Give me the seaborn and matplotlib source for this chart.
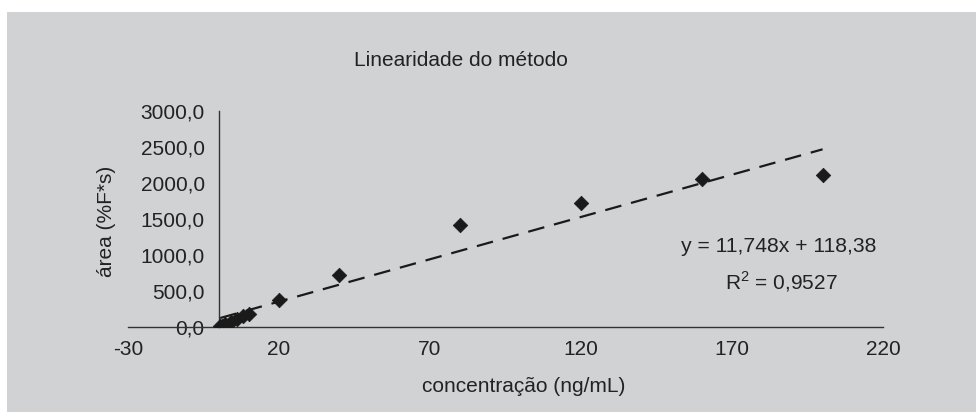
import matplotlib
matplotlib.use("Agg")
import matplotlib.pyplot as plt
import seaborn as sns
import numpy as np
import pandas as pd
from matplotlib.patches import Rectangle
from matplotlib.ticker import FuncFormatter, FixedLocator

# ---- data ----
concentracao = [0.5, 1, 2, 4, 6, 8, 10, 20, 40, 80, 120, 160, 200]
area = [9, 18, 36, 72, 110, 148, 185, 375, 722, 1417, 1722, 2055, 2111]
slope = 11.748
intercept = 118.38
x_ticks = [-30, 20, 70, 120, 170, 220]
y_ticks = [0, 500, 1000, 1500, 2000, 2500, 3000]
title = "Linearidade do método"
xlabel = "concentração (ng/mL)"
ylabel = "área (%F*s)"
eq_text = "y = 11,748x + 118,38"
r2_text = "R$^2$ = 0,9527"

df = pd.DataFrame({"x": concentracao, "y": area})

sns.set_style("white")
plt.rcParams["font.family"] = ["Liberation Sans", "DejaVu Sans"]
plt.rcParams["mathtext.fontset"] = "custom"
plt.rcParams["mathtext.rm"] = "Liberation Sans"

W, H = 976, 412
fig = plt.figure(figsize=(W / 100, H / 100), dpi=100)
fig.patch.set_facecolor("white")
bg = "#d1d2d4"
fig.patches.append(Rectangle((7 / W, 0), 1 - 7 / W, 1 - 12 / H,
                             transform=fig.transFigure, facecolor=bg,
                             edgecolor="none", zorder=-10))

ax = fig.add_axes([128 / W, (H - 327) / H, (883 - 128) / W, (327 - 111) / H])
ax.set_facecolor("none")

sns.scatterplot(data=df, x="x", y="y", ax=ax, marker="D", s=55,
                color="#1a1a1a", edgecolor="#1a1a1a", linewidth=0.5, zorder=3)

xl = np.array([min(concentracao), max(concentracao)])
ax.plot(xl, slope * xl + intercept, linestyle=(0, (7.5, 4.5)), color="#1a1a1a",
        linewidth=1.6, zorder=2)

ax.set_xlim(x_ticks[0], x_ticks[-1])
ax.set_ylim(y_ticks[0], y_ticks[-1])
ax.xaxis.set_major_locator(FixedLocator(x_ticks))
ax.yaxis.set_major_locator(FixedLocator(y_ticks))
ax.yaxis.set_major_formatter(FuncFormatter(lambda v, p: f"{v:.1f}".replace(".", ",")))
ax.xaxis.set_major_formatter(FuncFormatter(lambda v, p: f"{int(v)}"))

for s in ["top", "right"]:
    ax.spines[s].set_visible(False)
ax.spines["left"].set_position(("data", 0))
for s in ["left", "bottom"]:
    ax.spines[s].set_color("#333333")
    ax.spines[s].set_linewidth(1.0)

ax.tick_params(axis="both", which="major", labelsize=15, colors="#222222",
               direction="out", length=4.5, width=1.0)
ax.tick_params(axis="x", pad=5)
ax.tick_params(axis="y", pad=5.5)

ax.set_xlabel(xlabel, fontsize=15, color="#222222")
ax.set_ylabel(ylabel, fontsize=15, color="#222222")
ax.xaxis.set_label_coords((524 - 128) / 755, (327 - 377) / 216)
ax.yaxis.set_label_coords((116 - 128) / 755, (327 - 221) / 216)

fig.text(461 / W, (H - 60) / H, title, ha="center", va="center",
         fontsize=15, color="#222222")
fig.text(779 / W, (H - 246) / H, eq_text, ha="center", va="center",
         fontsize=15.2, color="#222222")
fig.text(781 / W, (H - 282) / H, r2_text, ha="center", va="center",
         fontsize=15, color="#222222")

fig.savefig("out.png", dpi=100)
